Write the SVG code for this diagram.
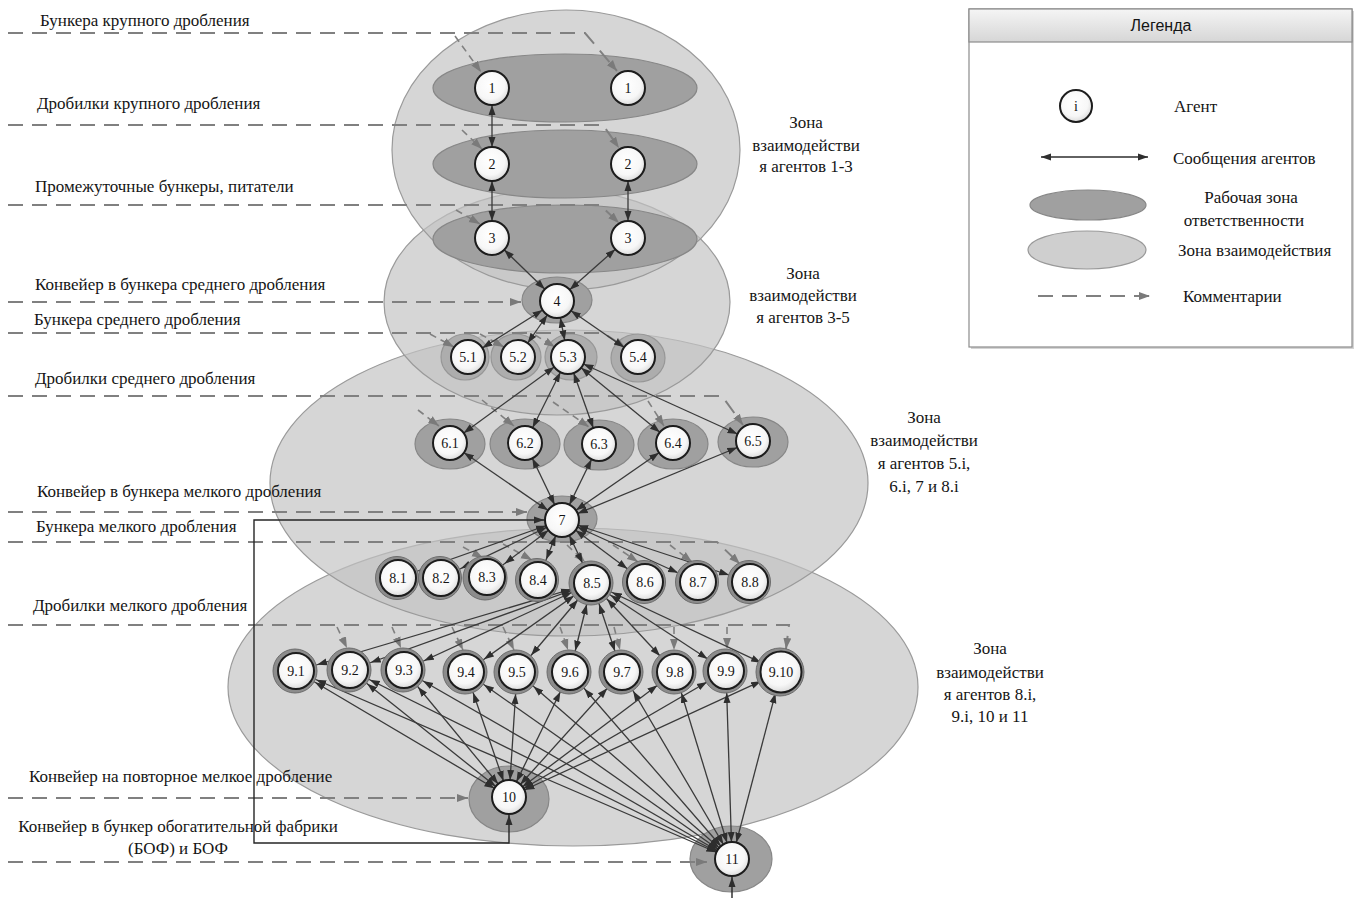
<svg xmlns="http://www.w3.org/2000/svg" width="1356" height="898" viewBox="0 0 1356 898">
<style>
text{font-family:"Liberation Serif","Times New Roman",serif;fill:#151515}
.lt{font-size:17px}
.zt{font-size:17px;text-anchor:middle}
.nt{font-size:14px;text-anchor:middle}
.zone{fill:#c2c2c2;fill-opacity:.68;stroke:#9a9a9a;stroke-width:1.2}
.wz{fill:#a0a0a0;stroke:#878787;stroke-width:1.2}
.wz5{fill:#adadad;stroke:#979797;stroke-width:1.2}
.ring{fill:#8c8c8c;stroke:#6c6c6c;stroke-width:1}
.ag{fill:url(#gAgent);stroke:#1c1c1c;stroke-width:2}
.msg{fill:none;stroke:#3a3a3a;stroke-width:1.3}
.a{marker-start:url(#m17);marker-end:url(#m17)}
.b{marker-start:url(#m17);marker-end:url(#m21)}
.c{marker-start:url(#m21);marker-end:url(#m21)}
.cm{fill:none;stroke:#808080;stroke-width:2;stroke-dasharray:15 9;marker-end:url(#g)}
.br{fill:none;stroke:#808080;stroke-width:1.6;stroke-dasharray:7 5;marker-end:url(#g)}
.byp{fill:none;stroke:#262626;stroke-width:1.4;marker-start:url(#k);marker-end:url(#k)}
</style>
<defs>
<radialGradient id="gAgent" cx="45%" cy="40%" r="65%"><stop offset="0" stop-color="#ffffff"/><stop offset="0.65" stop-color="#f7f7f7"/><stop offset="1" stop-color="#d5d5d5"/></radialGradient>
<linearGradient id="gHead" x1="0" y1="0" x2="0" y2="1"><stop offset="0" stop-color="#f5f5f5"/><stop offset="1" stop-color="#d6d6d6"/></linearGradient>
<marker id="m17" viewBox="0 0 10 8" markerUnits="userSpaceOnUse" markerWidth="10" markerHeight="8" refX="27" refY="4" orient="auto-start-reverse"><path d="M0,0.5 L10,4 L0,7.5 z" fill="#2e2e2e"/></marker>
<marker id="m21" viewBox="0 0 10 8" markerUnits="userSpaceOnUse" markerWidth="10" markerHeight="8" refX="32" refY="4" orient="auto-start-reverse"><path d="M0,0.5 L10,4 L0,7.5 z" fill="#2e2e2e"/></marker>
<marker id="k" viewBox="0 0 10 8" markerUnits="userSpaceOnUse" markerWidth="10" markerHeight="8" refX="10" refY="4" orient="auto-start-reverse"><path d="M0,0.5 L10,4 L0,7.5 z" fill="#2e2e2e"/></marker>
<marker id="g" viewBox="0 0 11 9" markerUnits="userSpaceOnUse" markerWidth="11" markerHeight="9" refX="11" refY="4.5" orient="auto"><path d="M0,0.5 L11,4.5 L0,8.5 z" fill="#7a7a7a"/></marker>
</defs>
<rect width="1356" height="898" fill="#ffffff"/>

<g id="zones">
<ellipse id="zone-8-11" class="zone" cx="573" cy="687" rx="345" ry="159"/>
<ellipse id="zone-5-8" class="zone" cx="569" cy="483" rx="299" ry="153"/>
<ellipse id="zone-3-5" class="zone" cx="557" cy="302" rx="173" ry="113"/>
<ellipse id="zone-1-3" class="zone" cx="566" cy="150" rx="174" ry="140"/>
</g>

<g id="zone-labels">
<text class="zt" x="806" y="128">Зона</text><text class="zt" x="806" y="151">взаимодействи</text><text class="zt" x="806" y="172">я агентов 1-3</text>
<text class="zt" x="803" y="279">Зона</text><text class="zt" x="803" y="301">взаимодействи</text><text class="zt" x="803" y="323">я агентов 3-5</text>
<text class="zt" x="924" y="423">Зона</text><text class="zt" x="924" y="446">взаимодействи</text><text class="zt" x="924" y="469">я агентов 5.i,</text><text class="zt" x="924" y="492">6.i, 7 и 8.i</text>
<text class="zt" x="990" y="654">Зона</text><text class="zt" x="990" y="678">взаимодействи</text><text class="zt" x="990" y="700">я агентов 8.i,</text><text class="zt" x="990" y="722">9.i, 10 и 11</text>
</g>

<g id="work-zones">
<ellipse id="wz-row1" class="wz" cx="565" cy="88" rx="132" ry="34"/>
<ellipse id="wz-row2" class="wz" cx="565" cy="164" rx="132" ry="34"/>
<ellipse id="wz-row3" class="wz" cx="565" cy="239" rx="132" ry="34"/>
<ellipse id="wz-4" class="wz" cx="557" cy="300" rx="35" ry="23"/>
<ellipse id="wz-5-1" class="wz5" cx="465" cy="357" rx="24" ry="23"/>
<ellipse id="wz-5-2" class="wz5" cx="516" cy="357" rx="25" ry="23"/>
<ellipse id="wz-5-3" class="wz5" cx="571" cy="357" rx="26" ry="23"/>
<ellipse id="wz-5-4" class="wz5" cx="638" cy="358" rx="27" ry="24"/>
<ellipse id="wz-6-1" class="wz" cx="450" cy="444" rx="35" ry="25"/>
<ellipse id="wz-6-2" class="wz" cx="525" cy="444" rx="35" ry="25"/>
<ellipse id="wz-6-3" class="wz" cx="599" cy="445" rx="35" ry="25"/>
<ellipse id="wz-6-4" class="wz" cx="673" cy="444" rx="35" ry="25"/>
<ellipse id="wz-6-5" class="wz" cx="753" cy="442" rx="35" ry="25"/>
<ellipse id="wz-7" class="wz" cx="562" cy="519" rx="35" ry="23"/>
<ellipse id="wz-10" class="wz" cx="509" cy="799" rx="40" ry="33"/>
<ellipse id="wz-11" class="wz" cx="731" cy="859" rx="41" ry="33"/>
</g>

<g id="comments">
<path class="cm" d="M8,33 L585,33 L617,71"/>
<path class="br" d="M455,36 L481,72"/>
<path class="cm" d="M8,125 L603,125 L619,148"/>
<path class="br" d="M462,130 L482,149"/>
<path class="cm" d="M8,205 L600,205 L619,223"/>
<path class="br" d="M456,210 L480,224"/>
<path class="cm" d="M8,302 L521,302"/>
<path class="cm" d="M8,333 L603,333 L625,347"/>
<path class="br" d="M430,334 L454,347"/>
<path class="br" d="M480,334 L504,347"/>
<path class="br" d="M535,335 L555,347"/>
<path class="cm" d="M8,396 L722,396 L743,425"/>
<path class="br" d="M418,410 L439,426"/>
<path class="br" d="M482,400 L514,426"/>
<path class="br" d="M553,402 L589,427"/>
<path class="br" d="M648,401 L664,426"/>
<path class="cm" d="M8,512 L527,512"/>
<path class="cm" d="M8,542 L717,542 L740,564"/>
<path class="br" d="M463,547 L483,558"/>
<path class="br" d="M503,544 L532,560"/>
<path class="br" d="M567,545 L585,562"/>
<path class="br" d="M613,545 L638,562"/>
<path class="br" d="M670,545 L692,562"/>
<path class="cm" d="M8,625 L789,625 L786,649"/>
<path class="br" d="M337,627 L347,648"/>
<path class="br" d="M392,627 L401,648"/>
<path class="br" d="M452,627 L463,650"/>
<path class="br" d="M503,627 L514,650"/>
<path class="br" d="M560,627 L568,650"/>
<path class="br" d="M614,627 L620,650"/>
<path class="br" d="M674,627 L674,650"/>
<path class="br" d="M727,627 L727,649"/>
<path class="cm" d="M8,798 L468,798"/>
<path class="cm" d="M8,862 L707,862"/>
</g>

<g id="left-labels">
<text class="lt" x="40" y="26">Бункера крупного дробления</text>
<text class="lt" x="37" y="109">Дробилки крупного дробления</text>
<text class="lt" x="35" y="192">Промежуточные бункеры, питатели</text>
<text class="lt" x="35" y="290">Конвейер в бункера среднего дробления</text>
<text class="lt" x="34" y="325">Бункера среднего дробления</text>
<text class="lt" x="35" y="384">Дробилки среднего дробления</text>
<text class="lt" x="37" y="497">Конвейер в бункера мелкого дробления</text>
<text class="lt" x="36" y="532">Бункера мелкого дробления</text>
<text class="lt" x="33" y="611">Дробилки мелкого дробления</text>
<text class="lt" x="29" y="782">Конвейер на повторное мелкое дробление</text>
<text class="lt" x="178" y="832" text-anchor="middle">Конвейер в бункер обогатительной фабрики</text>
<text class="lt" x="178" y="854" text-anchor="middle">(БОФ) и БОФ</text>
</g>

<g id="connectors">
<path class="msg a" d="M492,88 L492,164"/>
<path class="msg a" d="M492,164 L492,238"/>
<path class="msg a" d="M628,164 L628,238"/>
<path class="msg a" d="M557,301 L492,238"/>
<path class="msg a" d="M557,301 L628,238"/>
<path class="msg a" d="M557,301 L468,357"/>
<path class="msg a" d="M557,301 L518,357"/>
<path class="msg a" d="M557,301 L568,357"/>
<path class="msg a" d="M557,301 L638,357"/>
<path class="msg a" d="M568,357 L450,443"/>
<path class="msg a" d="M568,357 L525,443"/>
<path class="msg a" d="M568,357 L599,444"/>
<path class="msg a" d="M568,357 L673,443"/>
<path class="msg a" d="M568,357 L753,441"/>
<path class="msg a" d="M562,520 L450,443"/>
<path class="msg a" d="M562,520 L525,443"/>
<path class="msg a" d="M562,520 L599,444"/>
<path class="msg a" d="M562,520 L673,443"/>
<path class="msg a" d="M562,520 L753,441"/>
<path class="msg b" d="M562,520 L398,578"/>
<path class="msg b" d="M562,520 L441,578"/>
<path class="msg b" d="M562,520 L487,577"/>
<path class="msg b" d="M562,520 L538,580"/>
<path class="msg b" d="M562,520 L592,583"/>
<path class="msg b" d="M562,520 L645,582"/>
<path class="msg b" d="M562,520 L698,582"/>
<path class="msg b" d="M562,520 L750,582"/>
<path class="msg c" d="M592,583 L296,671"/>
<path class="msg c" d="M592,583 L350,670"/>
<path class="msg c" d="M592,583 L404,670"/>
<path class="msg c" d="M592,583 L466,672"/>
<path class="msg c" d="M592,583 L517,672"/>
<path class="msg c" d="M592,583 L570,672"/>
<path class="msg c" d="M592,583 L622,672"/>
<path class="msg c" d="M592,583 L675,672"/>
<path class="msg c" d="M592,583 L726,671"/>
<path class="msg c" d="M592,583 L781,672"/>
<path class="msg b" d="M509,797 L296,671"/>
<path class="msg b" d="M509,797 L350,670"/>
<path class="msg b" d="M509,797 L404,670"/>
<path class="msg b" d="M509,797 L466,672"/>
<path class="msg b" d="M509,797 L517,672"/>
<path class="msg b" d="M509,797 L570,672"/>
<path class="msg b" d="M509,797 L622,672"/>
<path class="msg b" d="M509,797 L675,672"/>
<path class="msg b" d="M509,797 L726,671"/>
<path class="msg b" d="M509,797 L781,672"/>
<path class="msg b" d="M732,859 L296,671"/>
<path class="msg b" d="M732,859 L350,670"/>
<path class="msg b" d="M732,859 L404,670"/>
<path class="msg b" d="M732,859 L466,672"/>
<path class="msg b" d="M732,859 L517,672"/>
<path class="msg b" d="M732,859 L570,672"/>
<path class="msg b" d="M732,859 L622,672"/>
<path class="msg b" d="M732,859 L675,672"/>
<path class="msg b" d="M732,859 L726,671"/>
<path class="msg b" d="M732,859 L781,672"/>
<path class="byp" d="M509,815 L509,843 L254,843 L254,520 L544,520"/>
<path class="byp" style="marker-start:none" d="M732,898 L732,877"/>
</g>

<g id="n-1a"><circle class="ag" cx="492" cy="88" r="17"/><text class="nt" x="492" y="93">1</text></g>
<g id="n-1b"><circle class="ag" cx="628" cy="88" r="17"/><text class="nt" x="628" y="93">1</text></g>
<g id="n-2a"><circle class="ag" cx="492" cy="164" r="17"/><text class="nt" x="492" y="169">2</text></g>
<g id="n-2b"><circle class="ag" cx="628" cy="164" r="17"/><text class="nt" x="628" y="169">2</text></g>
<g id="n-3a"><circle class="ag" cx="492" cy="238" r="17"/><text class="nt" x="492" y="243">3</text></g>
<g id="n-3b"><circle class="ag" cx="628" cy="238" r="17"/><text class="nt" x="628" y="243">3</text></g>
<g id="n-4"><circle class="ag" cx="557" cy="301" r="17"/><text class="nt" x="557" y="306">4</text></g>
<g id="n-5-1"><circle class="ag" cx="468" cy="357" r="17"/><text class="nt" x="468" y="362">5.1</text></g>
<g id="n-5-2"><circle class="ag" cx="518" cy="357" r="17"/><text class="nt" x="518" y="362">5.2</text></g>
<g id="n-5-3"><circle class="ag" cx="568" cy="357" r="17"/><text class="nt" x="568" y="362">5.3</text></g>
<g id="n-5-4"><circle class="ag" cx="638" cy="357" r="17"/><text class="nt" x="638" y="362">5.4</text></g>
<g id="n-6-1"><circle class="ag" cx="450" cy="443" r="17"/><text class="nt" x="450" y="448">6.1</text></g>
<g id="n-6-2"><circle class="ag" cx="525" cy="443" r="17"/><text class="nt" x="525" y="448">6.2</text></g>
<g id="n-6-3"><circle class="ag" cx="599" cy="444" r="17"/><text class="nt" x="599" y="449">6.3</text></g>
<g id="n-6-4"><circle class="ag" cx="673" cy="443" r="17"/><text class="nt" x="673" y="448">6.4</text></g>
<g id="n-6-5"><circle class="ag" cx="753" cy="441" r="17"/><text class="nt" x="753" y="446">6.5</text></g>
<g id="n-7"><circle class="ag" cx="562" cy="520" r="17"/><text class="nt" x="562" y="525">7</text></g>
<g id="n-8-1"><circle class="ring" cx="397" cy="578" r="21.5"/><circle class="ag" cx="398" cy="578" r="18"/><text class="nt" x="398" y="583">8.1</text></g>
<g id="n-8-2"><circle class="ring" cx="440" cy="578" r="21.5"/><circle class="ag" cx="441" cy="578" r="18"/><text class="nt" x="441" y="583">8.2</text></g>
<g id="n-8-3"><circle class="ring" cx="485" cy="578" r="22"/><circle class="ag" cx="487" cy="577" r="18"/><text class="nt" x="487" y="582">8.3</text></g>
<g id="n-8-4"><circle class="ring" cx="537" cy="580" r="21.5"/><circle class="ag" cx="538" cy="580" r="18"/><text class="nt" x="538" y="585">8.4</text></g>
<g id="n-8-5"><circle class="ring" cx="591" cy="583" r="22"/><circle class="ag" cx="592" cy="583" r="18"/><text class="nt" x="592" y="588">8.5</text></g>
<g id="n-8-6"><circle class="ring" cx="644" cy="582" r="21.5"/><circle class="ag" cx="645" cy="582" r="18"/><text class="nt" x="645" y="587">8.6</text></g>
<g id="n-8-7"><circle class="ring" cx="697" cy="582" r="21.5"/><circle class="ag" cx="698" cy="582" r="18"/><text class="nt" x="698" y="587">8.7</text></g>
<g id="n-8-8"><circle class="ring" cx="749" cy="582" r="21.5"/><circle class="ag" cx="750" cy="582" r="18"/><text class="nt" x="750" y="587">8.8</text></g>
<g id="n-9-1"><circle class="ring" cx="295" cy="671" r="22"/><circle class="ag" cx="296" cy="671" r="18"/><text class="nt" x="296" y="676">9.1</text></g>
<g id="n-9-2"><circle class="ring" cx="349" cy="670" r="22"/><circle class="ag" cx="350" cy="670" r="18"/><text class="nt" x="350" y="675">9.2</text></g>
<g id="n-9-3"><circle class="ring" cx="403" cy="670" r="22"/><circle class="ag" cx="404" cy="670" r="18"/><text class="nt" x="404" y="675">9.3</text></g>
<g id="n-9-4"><circle class="ring" cx="465" cy="672" r="22"/><circle class="ag" cx="466" cy="672" r="18"/><text class="nt" x="466" y="677">9.4</text></g>
<g id="n-9-5"><circle class="ring" cx="516" cy="672" r="22"/><circle class="ag" cx="517" cy="672" r="18"/><text class="nt" x="517" y="677">9.5</text></g>
<g id="n-9-6"><circle class="ring" cx="569" cy="672" r="22"/><circle class="ag" cx="570" cy="672" r="18"/><text class="nt" x="570" y="677">9.6</text></g>
<g id="n-9-7"><circle class="ring" cx="621" cy="672" r="22"/><circle class="ag" cx="622" cy="672" r="18"/><text class="nt" x="622" y="677">9.7</text></g>
<g id="n-9-8"><circle class="ring" cx="674" cy="672" r="22"/><circle class="ag" cx="675" cy="672" r="18"/><text class="nt" x="675" y="677">9.8</text></g>
<g id="n-9-9"><circle class="ring" cx="725" cy="671" r="22"/><circle class="ag" cx="726" cy="671" r="18"/><text class="nt" x="726" y="676">9.9</text></g>
<g id="n-9-10"><circle class="ring" cx="780" cy="672" r="24"/><circle class="ag" cx="781" cy="672" r="20.5"/><text class="nt" x="781" y="677">9.10</text></g>
<g id="n-10"><circle class="ag" cx="509" cy="797" r="17"/><text class="nt" x="509" y="802">10</text></g>
<g id="n-11"><circle class="ag" cx="732" cy="859" r="17"/><text class="nt" x="732" y="864">11</text></g>

<g id="legend">
<rect x="971" y="11" width="383" height="338" fill="#b8b8b8" opacity="0.6"/>
<rect x="969" y="9" width="383" height="338" fill="#ffffff" stroke="#8c8c8c" stroke-width="1.2"/>
<rect x="969" y="9" width="383" height="33" fill="url(#gHead)" stroke="#8c8c8c" stroke-width="1.2"/>
<text x="1161" y="31" text-anchor="middle" style="font-family:'Liberation Sans','Open Sans',sans-serif;font-size:16px">Легенда</text>
<circle class="ag" cx="1076" cy="106" r="16"/><text class="nt" x="1076" y="111">i</text>
<text class="lt" x="1174" y="112">Агент</text>
<path d="M1041,157 L1148,157" fill="none" stroke="#2e2e2e" stroke-width="1.3" marker-start="url(#k)" marker-end="url(#k)"/>
<text class="lt" x="1173" y="164">Сообщения агентов</text>
<ellipse class="wz" cx="1088" cy="205" rx="58" ry="15"/>
<text class="zt" x="1251" y="203">Рабочая зона</text>
<text class="zt" x="1244" y="226">ответственности</text>
<ellipse cx="1087" cy="250" rx="59" ry="19" fill="#cfcfcf" stroke="#999" stroke-width="1.2"/>
<text class="lt" x="1178" y="256">Зона взаимодействия</text>
<path class="cm" d="M1038,296 L1150,296"/>
<text class="lt" x="1183" y="302">Комментарии</text>
</g>
</svg>
